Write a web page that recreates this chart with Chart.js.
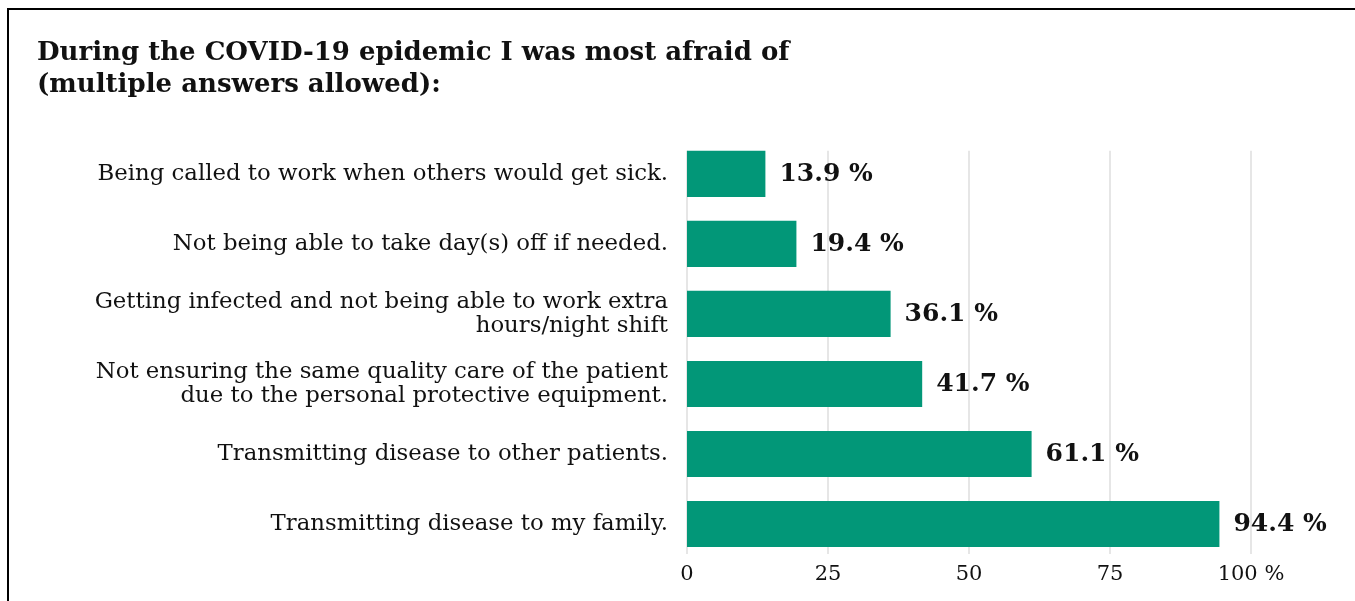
<!DOCTYPE html>
<html>
<head>
<meta charset="utf-8">
<script src="https://cdn.jsdelivr.net/npm/chart.js@4"></script>
<style>
    html, body { margin: 0; padding: 0; background: #fff; }
    #wrap { position: relative; width: 1355px; height: 601px; overflow: hidden; }
    #frame { position: absolute; left: 7px; top: 8px; width: 1400px; height: 700px;
             border-top: 2px solid #000; border-left: 2px solid #000; }
    canvas { position: absolute; left: 0; top: 0; }
</style>
</head>
<body>
<div id="wrap">
    <div id="frame"></div>
    <canvas id="fearChart" width="1355" height="601"></canvas>
</div>
<script>
const categories = [
    "Being called to work when others would get sick.",
    "Not being able to take day(s) off if needed.",
    ["Getting infected and not being able to work extra", "hours/night shift"],
    ["Not ensuring the same quality care of the patient", "due to the personal protective equipment."],
    "Transmitting disease to other patients.",
    "Transmitting disease to my family."
];
const percentages = [13.9, 19.4, 36.1, 41.7, 61.1, 94.4];
const tickValues = [0, 25, 50, 75, 100];
const titleLines = ["During the COVID-19 epidemic I was most afraid of", "(multiple answers allowed):"];

const SERIF = "'DejaVu Serif', serif";

// light vertical grid, starting at the top of the first bar like the original
const gridLines = {
    id: "gridLines",
    beforeDatasetsDraw(chart) {
        const ctx = chart.ctx;
        const xScale = chart.scales.x;
        const first = chart.getDatasetMeta(0).data[0];
        const top = first.y - first.height / 2;
        const bottom = chart.chartArea.bottom - 5;
        ctx.save();
        ctx.strokeStyle = "#e6e6e6";
        ctx.lineWidth = 2;
        tickValues.forEach(function (v) {
            const x = Math.round(xScale.getPixelForValue(v));
            ctx.beginPath();
            ctx.moveTo(x, top);
            ctx.lineTo(x, bottom);
            ctx.stroke();
        });
        ctx.restore();
    }
};

const valueLabels = {
    id: "valueLabels",
    afterDatasetsDraw(chart) {
        const ctx = chart.ctx;
        const meta = chart.getDatasetMeta(0);
        ctx.save();
        ctx.font = "bold 25px " + SERIF;
        ctx.fillStyle = "#111";
        ctx.textAlign = "left";
        ctx.textBaseline = "middle";
        meta.data.forEach(function (bar, i) {
            ctx.fillText(percentages[i].toFixed(1) + " %", bar.x + 14, bar.y + 1);
        });
        ctx.restore();
    }
};

document.addEventListener("DOMContentLoaded", function () {
    const ctx = document.getElementById("fearChart");

    new Chart(ctx, {
        type: "bar",
        data: {
            labels: categories,
            datasets: [{
                data: percentages,
                backgroundColor: "#029778",
                barPercentage: 0.66,
                categoryPercentage: 1.0
            }]
        },
        options: {
            indexAxis: "y",
            responsive: false,
            animation: false,
            layout: { padding: { left: 37, right: 104, top: 37, bottom: 6 } },
            plugins: {
                legend: { display: false },
                tooltip: { enabled: false },
                title: {
                    display: true,
                    text: titleLines,
                    align: "start",
                    color: "#111",
                    font: { family: SERIF, size: 26, weight: "bold", lineHeight: 1.23 },
                    padding: { top: 0, bottom: 38 }
                }
            },
            scales: {
                x: {
                    min: 0,
                    max: 100,
                    afterBuildTicks: function (axis) {
                        axis.ticks = tickValues.map(function (v) { return { value: v }; });
                    },
                    afterFit: function (axis) { axis.height = 36; },
                    grid: { display: false },
                    border: { display: false },
                    ticks: {
                        color: "#111",
                        padding: -5,
                        maxRotation: 0,
                        font: { family: SERIF, size: 21 },
                        callback: function (value) {
                            return value === 100 ? "100 %" : value;
                        }
                    }
                },
                y: {
                    afterFit: function (axis) {
                        axis.width = 650;
                        axis.paddingTop = 0;
                        axis.paddingBottom = 0;
                    },
                    grid: { display: false },
                    border: { display: false },
                    ticks: {
                        color: "#111",
                        padding: 11,
                        font: { family: SERIF, size: 22.8, lineHeight: 1.05 }
                    }
                }
            }
        },
        plugins: [gridLines, valueLabels]
    });
});
</script>
</body>
</html>
